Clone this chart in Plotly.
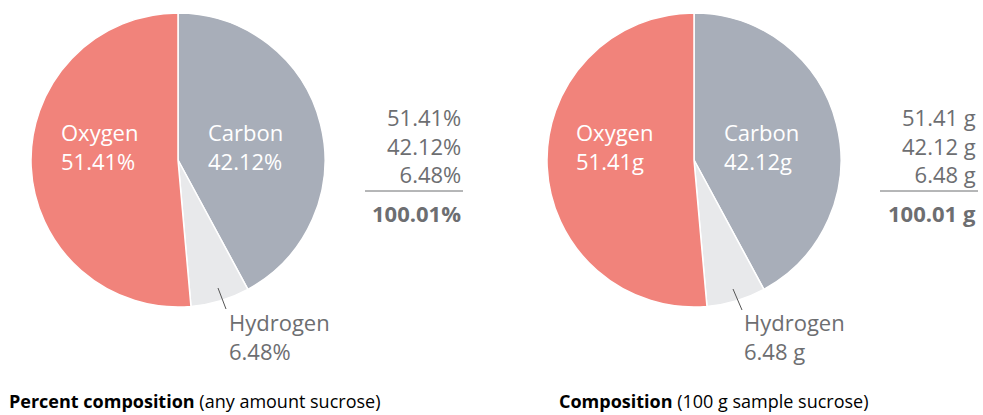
import plotly.graph_objects as go

W, H = 983, 415

elements = ["Carbon", "Hydrogen", "Oxygen"]
values = [42.12, 6.48, 51.41]
pct_labels = ["42.12%", "6.48%", "51.41%"]
gram_labels = ["42.12g", "6.48 g", "51.41g"]
col_pct = ["51.41%", "42.12%", "6.48%"]
col_g = ["51.41 g", "42.12 g", "6.48 g"]
total_pct = "100.01%"
total_g = "100.01 g"
colors = ["#A8AEB9", "#E8E9EB", "#F1837B"]
TEXT = "#6D6E71"
FONT = "Open Sans"
FS = 22


def px(x):
    return x / W


def py(y):
    return 1 - y / H


fig = go.Figure()
for cx in (178, 694):
    r = 147
    fig.add_trace(go.Pie(
        labels=elements, values=values, sort=False, direction="clockwise",
        rotation=0, textinfo="none", hoverinfo="label+value",
        marker=dict(colors=colors, line=dict(color="white", width=1.5)),
        domain=dict(x=[px(cx - r), px(cx + r)], y=[py(160 + r), py(160 - r)]),
        showlegend=False,
    ))

ann = []


def txt(x, y, lines, color=TEXT, size=FS, anchor="left", bold=False):
    s = "<br>".join(lines)
    if bold:
        s = "<b>" + s + "</b>"
    ann.append(dict(x=px(x), y=py(y), xref="paper", yref="paper", text=s,
                    showarrow=False, xanchor=anchor, yanchor="middle",
                    align=anchor, font=dict(family=FONT, size=size, color=color)))


# left pie labels
txt(59, 146, ["Oxygen", pct_labels[2]], "white")
txt(206, 146, ["Carbon", pct_labels[0]], "white")
txt(227, 336, ["Hydrogen", pct_labels[1]])
# right pie labels
txt(574, 146, ["Oxygen", gram_labels[2]], "white")
txt(722, 146, ["Carbon", gram_labels[0]], "white")
txt(742, 336, ["Hydrogen", gram_labels[1]])

# value columns
txt(463, 145, col_pct, anchor="right")
txt(978, 145, col_g, anchor="right")
txt(463, 213, [total_pct], anchor="right", bold=True)
txt(978, 213, [total_g], anchor="right", bold=True)

# captions
ann.append(dict(x=px(7), y=py(401), xref="paper", yref="paper",
                text="<b>Percent composition</b> (any amount sucrose)",
                showarrow=False, xanchor="left", yanchor="middle",
                font=dict(family=FONT, size=18, color="black")))
ann.append(dict(x=px(557), y=py(401), xref="paper", yref="paper",
                text="<b>Composition</b> (100 g sample sucrose)",
                showarrow=False, xanchor="left", yanchor="middle",
                font=dict(family=FONT, size=18, color="black")))

shapes = [
    dict(type="line", xref="paper", yref="paper", x0=px(365), x1=px(463),
         y0=py(191), y1=py(191), line=dict(color=TEXT, width=1)),
    dict(type="line", xref="paper", yref="paper", x0=px(880), x1=px(978),
         y0=py(191), y1=py(191), line=dict(color=TEXT, width=1)),
    dict(type="line", xref="paper", yref="paper", x0=px(218), x1=px(226),
         y0=py(288), y1=py(309), line=dict(color="#555555", width=1)),
    dict(type="line", xref="paper", yref="paper", x0=px(733), x1=px(742),
         y0=py(289), y1=py(310), line=dict(color="#555555", width=1)),
]

fig.update_layout(width=W, height=H, margin=dict(l=0, r=0, t=0, b=0),
                  paper_bgcolor="white", plot_bgcolor="white",
                  annotations=ann, shapes=shapes)
fig.write_html("out.html", config={"displayModeBar": False},
               post_script="document.body.style.margin='0';document.body.style.overflow='hidden';")
